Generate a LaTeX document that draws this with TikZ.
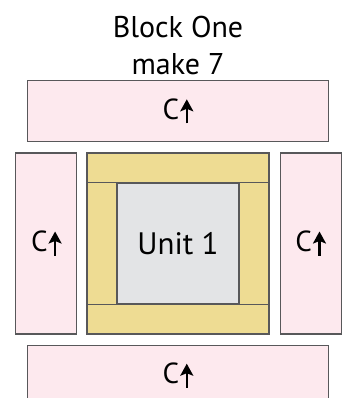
\documentclass[tikz,border=0pt]{standalone}
\usepackage{fontspec}
\setmainfont{PT Sans}
\usetikzlibrary{arrows.meta,positioning}
\definecolor{blush}{HTML}{FDE9EE}
\definecolor{straw}{HTML}{EEDC93}
\definecolor{ash}{HTML}{E3E4E6}
\definecolor{rim}{HTML}{58585A}
\newcommand{\arrowup}{\tikz[baseline=0pt]\draw[line width=2.2pt,-{Stealth[length=12pt,width=13pt,inset=2.5pt]}] (0pt,-4pt) -- (0pt,20pt);}

\begin{document}
\begin{tikzpicture}[x=1pt,y=-1pt,node distance=10pt,
  strip node/.style={draw=rim,line width=1.2pt,fill=blush,inner sep=0pt,font=\fontsize{29}{29}\selectfont},
  block node/.style={draw=rim,line width=1.2pt,fill=straw,inner sep=0pt,minimum width=182pt,minimum height=181pt},
  unit node/.style={draw=rim,line width=1.2pt,fill=ash,inner sep=0pt,minimum size=121pt,font=\fontsize{31}{31}\selectfont},
  title node/.style={align=center,inner sep=0pt,font=\fontsize{30}{37}\selectfont}]
  \useasboundingbox (0,0) rectangle (347,398);
  \node[block node] (block) at (178,243.5) {};
  \node[unit node] (unit) at (block.center) {Unit 1};
  \node[strip node,minimum width=61pt,minimum height=181pt] (left) [left=9pt of block] {C\kern1pt\arrowup};
  \node[strip node,minimum width=61pt,minimum height=181pt] (right) [right=of block] {C\kern1pt\arrowup};
  \node[strip node,minimum width=301pt,minimum height=61pt] (top) [above=of block] {C\kern1pt\arrowup};
  \node[strip node,minimum width=301pt,minimum height=61pt] (bottom) [below=of block] {C\kern1pt\arrowup};
  \node[title node] (title) [above=5pt of top] {Block One\\make 7};
  \draw[rim,line width=1.2pt]
    (block.west |- unit.north) -- (block.east |- unit.north)
    (block.west |- unit.south) -- (block.east |- unit.south)
    (unit.north west) -- (unit.south west)
    (unit.north east) -- (unit.south east);
\end{tikzpicture}
\end{document}
